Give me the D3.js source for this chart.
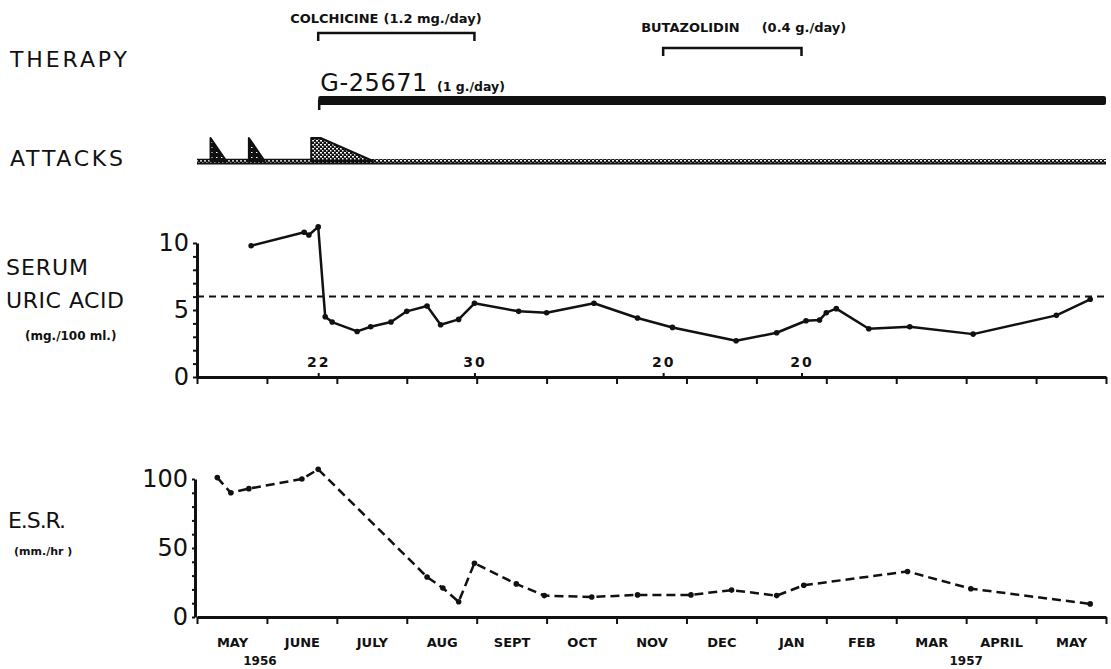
<!DOCTYPE html>
<html>
<head>
<meta charset="utf-8">
<script src="https://cdnjs.cloudflare.com/ajax/libs/d3/7.8.5/d3.min.js"></script>
<style>
body { margin: 0; background: #fff; }
svg { display: block; }
text { font-family: "DejaVu Sans", sans-serif; fill: #111; }
.sm { font-weight: bold; }
</style>
</head>
<body>
<script>
// month labels along the bottom, May 1956 .. May 1957
var months = ["MAY", "JUNE", "JULY", "AUG", "SEPT", "OCT", "NOV", "DEC", "JAN", "FEB", "MAR", "APRIL", "MAY"];
var years = ["1956", "1957"];
var yearPos = [0.9, 11];

// therapy
var therapyNames = ["COLCHICINE", "BUTAZOLIDIN", "G-25671"];
var therapyDoses = ["(1.2 mg./day)", "(0.4 g./day)", "(1 g./day)"];
var therapyStart = ["1956-06-22", "1956-11-20", "1956-06-22"];
var therapyEnd = ["1956-08-30", "1957-01-20", "1957-05-31"];

// attacks (onset, end of plateau, resolved)
var attackStart = ["1956-05-06", "1956-05-23", "1956-06-19"];
var attackPeakEnd = ["1956-05-06", "1956-05-23", "1956-06-23"];
var attackEnd = ["1956-05-13", "1956-05-30", "1956-07-16"];

// serum uric acid, mg./100 ml.
var serumDates = ["1956-05-24", "1956-06-16", "1956-06-18", "1956-06-22", "1956-06-25", "1956-06-28",
  "1956-07-09", "1956-07-15", "1956-07-24", "1956-07-31", "1956-08-09", "1956-08-15", "1956-08-23",
  "1956-08-30", "1956-09-18", "1956-09-30", "1956-10-21", "1956-11-09", "1956-11-24", "1956-12-22",
  "1957-01-09", "1957-01-22", "1957-01-28", "1957-01-31", "1957-02-04", "1957-02-17", "1957-03-06",
  "1957-04-03", "1957-05-09", "1957-05-24"];
var serumValues = [9.8, 10.8, 10.6, 11.2, 4.5, 4.1, 3.4, 3.75, 4.1, 4.9, 5.3, 3.9, 4.3,
  5.5, 4.9, 4.8, 5.5, 4.4, 3.7, 2.7, 3.3, 4.2, 4.25, 4.8, 5.1, 3.6, 3.75, 3.2, 4.6, 5.8];
var serumNormal = 6;
var serumTicks = [0, 5, 10];
var serumMarks = ["1956-06-22", "1956-08-30", "1956-11-20", "1957-01-20"];

// E.S.R., mm./hr
var esrDates = ["1956-05-09", "1956-05-15", "1956-05-23", "1956-06-15", "1956-06-22", "1956-08-09",
  "1956-08-16", "1956-08-23", "1956-08-30", "1956-09-17", "1956-09-29", "1956-10-20", "1956-11-09",
  "1956-12-02", "1956-12-20", "1957-01-09", "1957-01-21", "1957-03-05", "1957-04-02", "1957-05-24"];
var esrValues = [101, 90, 93, 100, 107, 29, 21, 11, 39, 24, 15.5, 14.5, 16, 16, 19.5, 15.5, 23, 33, 20.5, 9.5];
var esrTicks = [0, 50, 100];

// date -> month position (0 = start of May 1956)
function pos(s) {
  var p = s.split("-"), y = +p[0], m = +p[1], d = +p[2];
  var dim = new Date(y, m, 0).getDate();
  return (y - 1956) * 12 + (m - 5) + d / dim;
}

var width = 1111, height = 669;
var svg = d3.select("body").append("svg").attr("width", width).attr("height", height);

var x = d3.scaleLinear().domain([0, months.length]).range([197, 1106]);
var ySerum = d3.scaleLinear().domain([0, 10]).range([377, 243]);
var yEsr = d3.scaleLinear().domain([0, 100]).range([617, 479]);
var yAttack = d3.scaleLinear().domain([0, 1]).range([161, 138]);

var ink = "#111";

function styleAxis(g, w) {
  g.attr("color", ink);
  g.select(".domain").attr("stroke-width", w);
  g.selectAll(".tick line").attr("stroke-width", 2);
}

// stipple patterns for the attacks
var defs = svg.append("defs");
var pd = defs.append("pattern").attr("id", "stipDark").attr("width", 5).attr("height", 5).attr("patternUnits", "userSpaceOnUse");
pd.append("rect").attr("width", 5).attr("height", 5).attr("fill", ink);
pd.append("rect").attr("x", 1).attr("y", 2).attr("width", 1.5).attr("height", 1).attr("fill", "#fff");
var pl = defs.append("pattern").attr("id", "stipLight").attr("width", 4).attr("height", 4).attr("patternUnits", "userSpaceOnUse");
pl.append("rect").attr("width", 4).attr("height", 4).attr("fill", ink);
pl.append("rect").attr("x", 0).attr("y", 0).attr("width", 2).attr("height", 1.5).attr("fill", "#fff");
pl.append("rect").attr("x", 2).attr("y", 2).attr("width", 1.5).attr("height", 1.5).attr("fill", "#fff");

// ---------------- left labels
function bigLabel(txt, lx, ly, len) {
  svg.append("text").attr("font-size", 22).attr("x", lx).attr("y", ly).attr("textLength", len).text(txt);
}
bigLabel("THERAPY", 10, 67, 117);
bigLabel("ATTACKS", 10, 166, 113);
bigLabel("SERUM", 6, 275, 82);
bigLabel("URIC ACID", 6, 308, 118);
bigLabel("E.S.R.", 8, 528, 58);
svg.append("text").attr("class", "sm").attr("font-size", 12).attr("x", 25).attr("y", 340).text("(mg./100 ml.)");
svg.append("text").attr("class", "sm").attr("font-size", 11).attr("x", 14).attr("y", 555).text("(mm./hr )");

// ---------------- therapy
var bracketY = [33, 48], bracketTextY = [23, 32], bracketTextDx = [-28, -22], doseGap = [5, 22];
[0, 1].forEach(function (i) {
  var x0 = x(pos(therapyStart[i])), x1 = x(pos(therapyEnd[i])), by = bracketY[i];
  svg.append("path")
    .attr("d", "M" + x0 + "," + (by + 8) + "V" + by + "H" + x1 + "V" + (by + 8))
    .attr("fill", "none").attr("stroke", ink).attr("stroke-width", 2.5);
  var t = svg.append("text").attr("class", "sm").attr("font-size", 13)
    .attr("x", x0 + bracketTextDx[i]).attr("y", bracketTextY[i]).text(therapyNames[i]);
  t.append("tspan").attr("dx", doseGap[i]).text(therapyDoses[i]);
});
var g0 = x(pos(therapyStart[2])), g1 = x(pos(therapyEnd[2]));
svg.append("rect").attr("x", g0).attr("y", 96).attr("width", g1 - g0).attr("height", 9)
  .attr("rx", 2).attr("fill", ink);
svg.append("line").attr("x1", g0 + 1).attr("x2", g0 + 1).attr("y1", 100).attr("y2", 110)
  .attr("stroke", ink).attr("stroke-width", 2.5);
var gt = svg.append("text").attr("x", g0 + 2).attr("y", 91).attr("font-size", 24).attr("letter-spacing", 0.6).text(therapyNames[2]);
gt.append("tspan").attr("class", "sm").attr("font-size", 12.5).attr("letter-spacing", 0).attr("dx", 9).text(therapyDoses[2]);

// ---------------- attacks
svg.append("rect").attr("x", x(0)).attr("y", 159).attr("width", x(months.length) - x(0)).attr("height", 4)
  .attr("fill", "url(#stipLight)");
svg.append("line").attr("x1", x(0)).attr("x2", x(months.length)).attr("y1", 163.5).attr("y2", 163.5)
  .attr("stroke", ink).attr("stroke-width", 2);
svg.append("line").attr("x1", x(0)).attr("x2", x(pos(attackStart[2]))).attr("y1", 159.5).attr("y2", 159.5)
  .attr("stroke", ink).attr("stroke-width", 1.5);

var attackLine = d3.line().x(function (d) { return x(d[0]); }).y(function (d) { return yAttack(d[1]); });
attackStart.forEach(function (s, i) {
  var pts = [[pos(s), 0], [pos(s), 1], [pos(attackPeakEnd[i]), 1], [pos(attackEnd[i]), 0]];
  svg.append("path").attr("d", attackLine(pts) + "Z")
    .attr("fill", i < 2 ? "url(#stipDark)" : "url(#stipLight)")
    .attr("stroke", ink).attr("stroke-width", 2).attr("stroke-linejoin", "round");
});

// ---------------- serum uric acid
svg.append("g").attr("transform", "translate(" + x(0) + ",0)")
  .call(d3.axisLeft(ySerum).tickValues(d3.range(0, 11)).tickSize(4).tickSizeOuter(0).tickFormat(""))
  .call(styleAxis, 3);
svg.append("g").attr("transform", "translate(" + (x(0) - 8) + ",0)")
  .call(d3.axisLeft(ySerum).tickValues(serumTicks).tickSize(0).tickPadding(0))
  .call(function (g) {
    g.select(".domain").remove();
    g.selectAll("text").attr("font-size", 24).attr("font-family", "DejaVu Sans").attr("fill", ink);
  });
svg.append("g").attr("transform", "translate(0," + ySerum(0) + ")")
  .call(d3.axisBottom(x).tickValues(d3.range(0, months.length + 1)).tickSize(7).tickSizeOuter(0).tickFormat(""))
  .call(styleAxis, 3);
svg.append("g").attr("transform", "translate(0," + ySerum(0) + ")")
  .call(d3.axisTop(x).tickValues(serumMarks.map(pos)).tickSize(4).tickPadding(6)
    .tickFormat(function (d, i) { return String(+serumMarks[i].split("-")[2]); }))
  .call(function (g) {
    g.select(".domain").remove();
    g.attr("color", ink);
    g.selectAll(".tick line").attr("stroke-width", 2);
    g.selectAll("text").attr("font-size", 14).attr("font-weight", "bold").attr("letter-spacing", 2)
      .attr("font-family", "DejaVu Sans").attr("fill", ink);
  });

svg.append("line").attr("x1", x(0)).attr("x2", x(months.length))
  .attr("y1", ySerum(serumNormal)).attr("y2", ySerum(serumNormal))
  .attr("stroke", ink).attr("stroke-width", 2).attr("stroke-dasharray", "7,5");

var serum = serumDates.map(function (d, i) { return [pos(d), serumValues[i]]; });
var serumLine = d3.line().x(function (d) { return x(d[0]); }).y(function (d) { return ySerum(d[1]); });
svg.append("path").attr("d", serumLine(serum)).attr("fill", "none")
  .attr("stroke", ink).attr("stroke-width", 2.5).attr("stroke-linejoin", "round");
svg.append("g").selectAll("circle").data(serum).enter().append("circle")
  .attr("cx", function (d) { return x(d[0]); }).attr("cy", function (d) { return ySerum(d[1]); })
  .attr("r", 2.8).attr("fill", ink);

// ---------------- E.S.R.
svg.append("g").attr("transform", "translate(" + (x(0) - 2) + ",0)")
  .call(d3.axisLeft(yEsr).tickValues(d3.range(0, 101, 10)).tickSize(3).tickSizeOuter(0).tickFormat(""))
  .call(styleAxis, 3);
svg.append("g").attr("transform", "translate(" + (x(0) - 9) + ",0)")
  .call(d3.axisLeft(yEsr).tickValues(esrTicks).tickSize(0).tickPadding(0))
  .call(function (g) {
    g.select(".domain").remove();
    g.selectAll("text").attr("font-size", 24).attr("font-family", "DejaVu Sans").attr("fill", ink);
  });
svg.append("g").attr("transform", "translate(0," + yEsr(0) + ")")
  .call(d3.axisBottom(x).tickValues(d3.range(0, months.length + 1)).tickSize(7).tickSizeOuter(0).tickFormat(""))
  .call(styleAxis, 3);
svg.append("g").attr("transform", "translate(0," + yEsr(0) + ")")
  .call(d3.axisBottom(x).tickValues(d3.range(0.5, months.length)).tickSize(0).tickPadding(21)
    .tickFormat(function (d, i) { return months[i]; }))
  .call(function (g) {
    g.select(".domain").remove();
    g.selectAll("text").attr("font-size", 13).attr("font-weight", "bold").attr("font-family", "DejaVu Sans").attr("fill", ink);
  });
svg.append("g").selectAll("text").data(years).enter().append("text")
  .attr("class", "sm").attr("font-size", 12).attr("text-anchor", "middle")
  .attr("x", function (d, i) { return x(yearPos[i]); }).attr("y", 665).text(function (d) { return d; });

var esr = esrDates.map(function (d, i) { return [pos(d), esrValues[i]]; });
var esrLine = d3.line().x(function (d) { return x(d[0]); }).y(function (d) { return yEsr(d[1]); });
svg.append("path").attr("d", esrLine(esr)).attr("fill", "none")
  .attr("stroke", ink).attr("stroke-width", 2.5).attr("stroke-dasharray", "9,5");
svg.append("g").selectAll("circle").data(esr).enter().append("circle")
  .attr("cx", function (d) { return x(d[0]); }).attr("cy", function (d) { return yEsr(d[1]); })
  .attr("r", 2.8).attr("fill", ink);
</script>
</body>
</html>
